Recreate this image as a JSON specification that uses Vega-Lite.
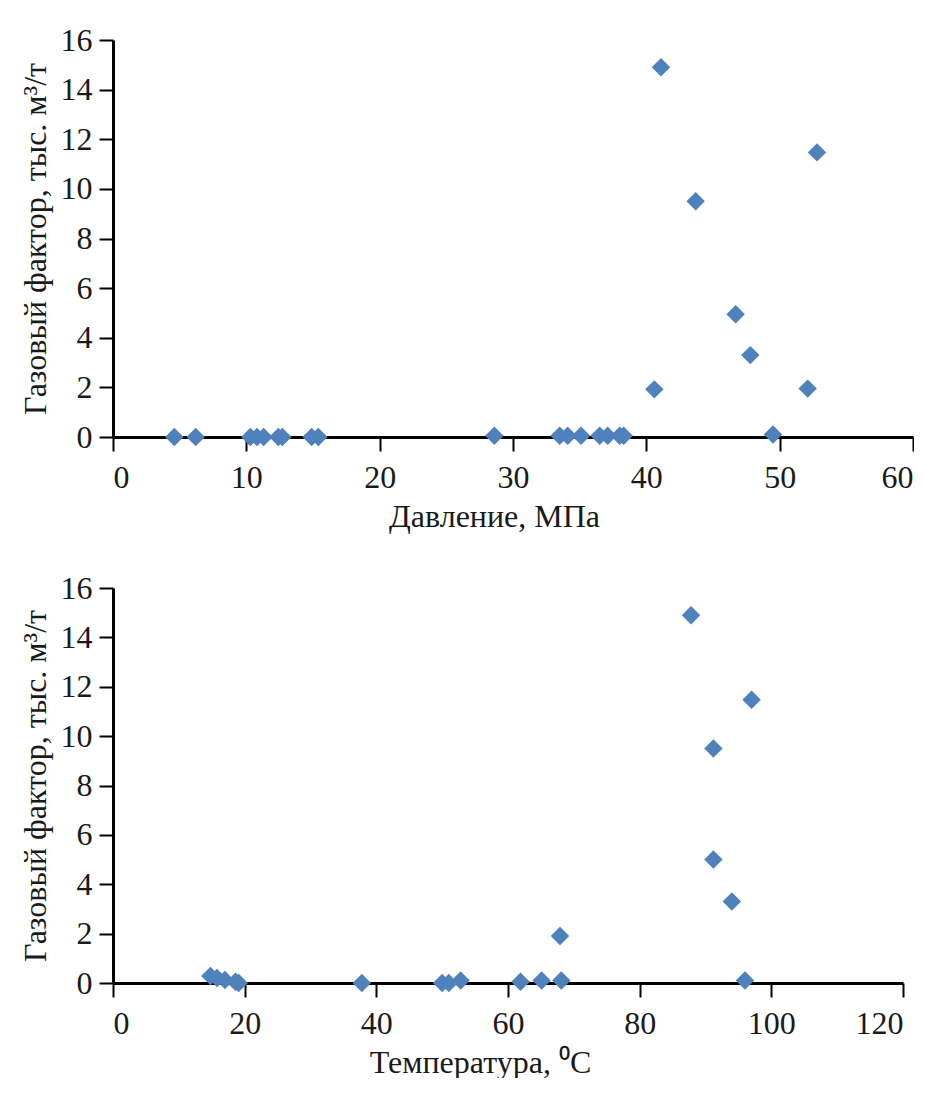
{
  "$schema": "https://vega.github.io/schema/vega-lite/v6.json",
  "background": "white",
  "padding": {"left": 19, "top": 24, "right": 0, "bottom": 0},
  "spacing": 40,
  "config": {
    "font": "Liberation Serif",
    "view": {"stroke": null},
    "axis": {
      "labelFont": "Liberation Serif",
      "labelFontSize": 32,
      "labelColor": "#1a1a1a",
      "titleFont": "Liberation Serif",
      "titleFontSize": 32,
      "titleFontWeight": "normal",
      "titleColor": "#1a1a1a",
      "domainColor": "black",
      "domainWidth": 3,
      "tickColor": "black",
      "tickWidth": 2,
      "tickSize": 14,
      "grid": false
    },
    "axisY": {"titlePadding": 8, "labelPadding": 7},
    "axisX": {"titlePadding": 8, "labelPadding": 11}
  },
  "datasets": {
    "pressure": [
      {"p": 4.6, "g": 0}, {"p": 6.2, "g": 0}, {"p": 10.3, "g": 0}, {"p": 10.8, "g": 0},
      {"p": 11.3, "g": 0}, {"p": 12.4, "g": 0}, {"p": 12.7, "g": 0}, {"p": 14.9, "g": 0},
      {"p": 15.4, "g": 0}, {"p": 28.6, "g": 0.05}, {"p": 33.5, "g": 0.05}, {"p": 34.1, "g": 0.05},
      {"p": 35.1, "g": 0.05}, {"p": 36.5, "g": 0.05}, {"p": 37.1, "g": 0.05}, {"p": 38.0, "g": 0.05},
      {"p": 38.3, "g": 0.05}, {"p": 49.5, "g": 0.1}, {"p": 40.6, "g": 1.92}, {"p": 41.1, "g": 14.9},
      {"p": 43.7, "g": 9.5}, {"p": 46.7, "g": 4.95}, {"p": 47.8, "g": 3.3}, {"p": 52.1, "g": 1.95},
      {"p": 52.8, "g": 11.47}
    ],
    "temperature": [
      {"t": 14.8, "g": 0.28}, {"t": 15.8, "g": 0.2}, {"t": 17.0, "g": 0.12}, {"t": 18.6, "g": 0.05},
      {"t": 19.1, "g": 0}, {"t": 37.8, "g": 0}, {"t": 50.0, "g": 0}, {"t": 51.0, "g": 0},
      {"t": 52.8, "g": 0.1}, {"t": 61.9, "g": 0.05}, {"t": 65.1, "g": 0.1}, {"t": 68.1, "g": 0.1},
      {"t": 67.9, "g": 1.9}, {"t": 87.8, "g": 14.9}, {"t": 91.2, "g": 9.5}, {"t": 91.2, "g": 5.0},
      {"t": 94.0, "g": 3.3}, {"t": 97.0, "g": 11.47}, {"t": 96.0, "g": 0.1}
    ]
  },
  "vconcat": [
    {
      "width": 800,
      "height": 397,
      "data": {"name": "pressure"},
      "mark": {"type": "point", "shape": "diamond", "filled": true, "size": 340, "color": "#4F81BD", "opacity": 1},
      "encoding": {
        "x": {
          "field": "p", "type": "quantitative",
          "scale": {"domain": [0, 60], "nice": false, "zero": true},
          "axis": {"title": "Давление, МПа", "values": [0, 10, 20, 30, 40, 50, 60], "titleX": 381}
        },
        "y": {
          "field": "g", "type": "quantitative",
          "scale": {"domain": [0, 16], "nice": false},
          "axis": {"title": "Газовый фактор, тыс. м³/т", "values": [0, 2, 4, 6, 8, 10, 12, 14, 16]}
        }
      }
    },
    {
      "width": 790,
      "height": 395,
      "data": {"name": "temperature"},
      "mark": {"type": "point", "shape": "diamond", "filled": true, "size": 340, "color": "#4F81BD", "opacity": 1},
      "encoding": {
        "x": {
          "field": "t", "type": "quantitative",
          "scale": {"domain": [0, 120], "nice": false, "zero": true},
          "axis": {"title": "Температура, ⁰C", "values": [0, 20, 40, 60, 80, 100, 120], "titleX": 367}
        },
        "y": {
          "field": "g", "type": "quantitative",
          "scale": {"domain": [0, 16], "nice": false},
          "axis": {"title": "Газовый фактор, тыс. м³/т", "values": [0, 2, 4, 6, 8, 10, 12, 14, 16]}
        }
      }
    }
  ]
}
